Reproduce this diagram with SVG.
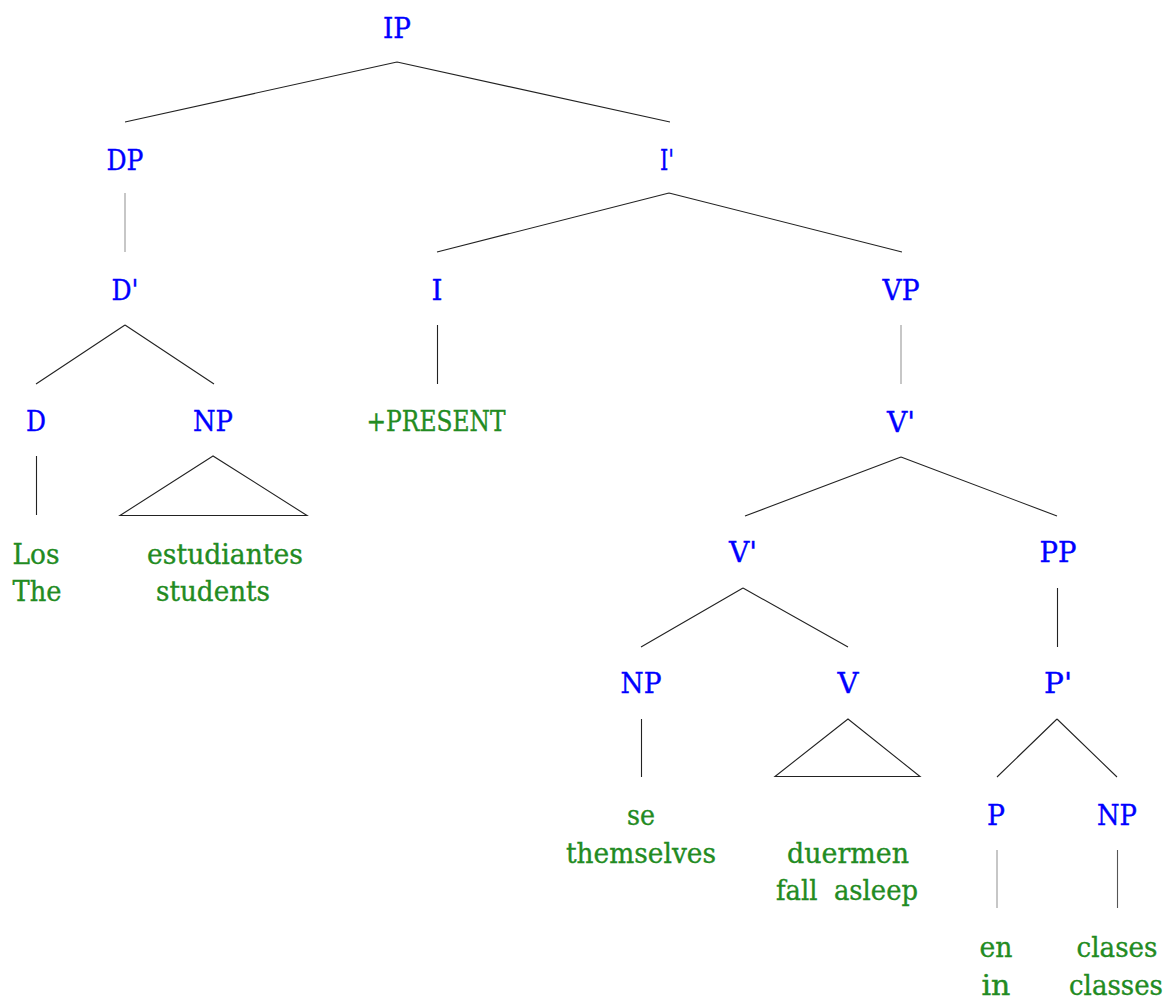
<svg xmlns="http://www.w3.org/2000/svg" width="1166" height="999" viewBox="0 0 1166 999">
  <style>
    text { font-family: "DejaVu Serif", "Liberation Serif", serif; font-size: 27px; text-anchor: middle; stroke-width: 0.35px; }
    .cat { fill: #0000ff; stroke: #0000ff; }
    .word { fill: #228b22; stroke: #228b22; white-space: pre; }
    .edge { stroke: #222; stroke-width: 1.1; fill: none; }
    .faint { stroke: #999; }
    .mid { stroke: #555; }
  </style>
  <rect width="1166" height="999" fill="#ffffff"/>

  <!-- branches -->
  <g id="connectors">
    <path class="edge" d="M397,62 L125,122 M397,62 L670,122"/>
    <path class="edge faint" d="M125,193 L125,252"/>
    <path class="edge" d="M669,193 L437,252 M669,193 L902,252"/>
    <path class="edge" d="M125,325 L36,384 M125,325 L214,384"/>
    <path class="edge" d="M437.5,325 L437.5,384"/>
    <path class="edge faint" d="M901,325 L901,384"/>
    <path class="edge" d="M36.5,456 L36.5,515"/>
    <path class="edge" d="M213,456 L120,515.5 L307,515.5 Z"/>
    <path class="edge" d="M901,457 L745,516 M901,457 L1057,516"/>
    <path class="edge" d="M743,588 L641,647 M743,588 L848,647"/>
    <path class="edge" d="M1057.5,588 L1057.5,647"/>
    <path class="edge" d="M641.5,719 L641.5,777"/>
    <path class="edge" d="M848,719 L775,776.5 L920,776.5 Z"/>
    <path class="edge" d="M1057,719 L997,777 M1057,719 L1117,777"/>
    <path class="edge faint" d="M997,850 L997,908"/>
    <path class="edge mid" d="M1117.5,850 L1117.5,908"/>
  </g>

  <!-- categories and words -->
  <g id="n-ip"><text class="cat" x="397" y="38" textLength="28" lengthAdjust="spacingAndGlyphs">IP</text></g>
  <g id="n-dp"><text class="cat" x="125" y="170" textLength="37" lengthAdjust="spacingAndGlyphs">DP</text></g>
  <g id="n-ibar"><text class="cat" x="667" y="170" textLength="14" lengthAdjust="spacingAndGlyphs">I'</text></g>
  <g id="n-dbar"><text class="cat" x="125" y="300" textLength="27" lengthAdjust="spacingAndGlyphs">D'</text></g>
  <g id="n-i"><text class="cat" x="437" y="300" textLength="11" lengthAdjust="spacingAndGlyphs">I</text></g>
  <g id="n-vp"><text class="cat" x="901" y="300" textLength="37" lengthAdjust="spacingAndGlyphs">VP</text></g>
  <g id="n-d"><text class="cat" x="36" y="431" textLength="20" lengthAdjust="spacingAndGlyphs">D</text></g>
  <g id="n-np1"><text class="cat" x="213" y="431" textLength="40" lengthAdjust="spacingAndGlyphs">NP</text></g>
  <g id="n-present"><text class="word" x="436" y="431" textLength="139" lengthAdjust="spacingAndGlyphs">+PRESENT</text></g>
  <g id="n-vbar1"><text class="cat" x="901" y="432" textLength="28" lengthAdjust="spacingAndGlyphs">V'</text></g>
  <g id="n-los">
    <text class="word" x="36" y="564" textLength="47" lengthAdjust="spacingAndGlyphs">Los</text>
    <text class="word" x="37" y="601" textLength="49" lengthAdjust="spacingAndGlyphs">The</text>
  </g>
  <g id="n-estudiantes">
    <text class="word" x="225" y="564" textLength="156" lengthAdjust="spacingAndGlyphs">estudiantes</text>
    <text class="word" x="213" y="601" textLength="114" lengthAdjust="spacingAndGlyphs">students</text>
  </g>
  <g id="n-vbar2"><text class="cat" x="743" y="562" textLength="28" lengthAdjust="spacingAndGlyphs">V'</text></g>
  <g id="n-pp"><text class="cat" x="1058" y="562" textLength="37" lengthAdjust="spacingAndGlyphs">PP</text></g>
  <g id="n-np2"><text class="cat" x="641" y="693" textLength="41" lengthAdjust="spacingAndGlyphs">NP</text></g>
  <g id="n-v"><text class="cat" x="848" y="693" textLength="21" lengthAdjust="spacingAndGlyphs">V</text></g>
  <g id="n-pbar"><text class="cat" x="1058" y="693" textLength="28" lengthAdjust="spacingAndGlyphs">P'</text></g>
  <g id="n-se">
    <text class="word" x="641" y="825" textLength="28" lengthAdjust="spacingAndGlyphs">se</text>
    <text class="word" x="641" y="863" textLength="150" lengthAdjust="spacingAndGlyphs">themselves</text>
  </g>
  <g id="n-duermen">
    <text class="word" x="848" y="863" textLength="122" lengthAdjust="spacingAndGlyphs">duermen</text>
    <text class="word" x="847" y="900" textLength="142" lengthAdjust="spacingAndGlyphs" xml:space="preserve">fall  asleep</text>
  </g>
  <g id="n-p"><text class="cat" x="996" y="825" textLength="18" lengthAdjust="spacingAndGlyphs">P</text></g>
  <g id="n-np3"><text class="cat" x="1117" y="825" textLength="40" lengthAdjust="spacingAndGlyphs">NP</text></g>
  <g id="n-en">
    <text class="word" x="996" y="957" textLength="33" lengthAdjust="spacingAndGlyphs">en</text>
    <text class="word" x="996" y="995" textLength="29" lengthAdjust="spacingAndGlyphs">in</text>
  </g>
  <g id="n-clases">
    <text class="word" x="1117" y="957" textLength="81" lengthAdjust="spacingAndGlyphs">clases</text>
    <text class="word" x="1116" y="995" textLength="94" lengthAdjust="spacingAndGlyphs">classes</text>
  </g>
</svg>
